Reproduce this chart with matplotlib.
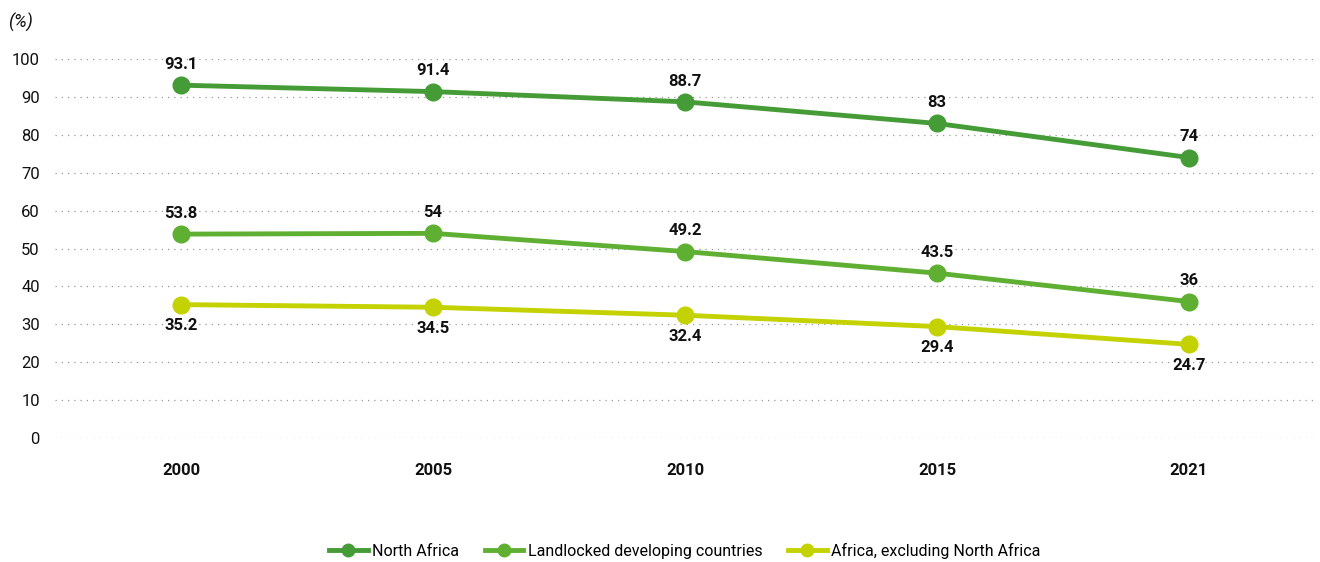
import matplotlib
matplotlib.use("Agg")
import matplotlib.pyplot as plt
from matplotlib import font_manager

years = ["2000", "2005", "2010", "2015", "2021"]
north_africa = [93.1, 91.4, 88.7, 83, 74]
landlocked = [53.8, 54, 49.2, 43.5, 36]
africa_excl = [35.2, 34.5, 32.4, 29.4, 24.7]

series_names = ["North Africa", "Landlocked developing countries", "Africa, excluding North Africa"]
colors = ["#459c37", "#5fb032", "#c3d200"]
label_side = [1, 1, -1]  # 1 = above the point, -1 = below

names = {f.name for f in font_manager.fontManager.ttflist}
fam = ["Liberation Sans Narrow", "DejaVu Sans"] if "Liberation Sans Narrow" in names else ["Roboto", "DejaVu Sans"]
plt.rcParams['font.family'] = fam

fig = plt.figure(figsize=(13.2, 5.62), dpi=100)
ax = fig.add_axes([0.0417, 0.2206, 0.9545, 0.6744])

x = list(range(len(years)))
for vals, name, col, side in zip([north_africa, landlocked, africa_excl], series_names, colors, label_side):
    ax.plot(x, vals, color=col, lw=3.5, marker="o", ms=12, label=name, clip_on=False, zorder=3)
    for xi, v in zip(x, vals):
        ax.annotate(f"{v:g}", (xi, v), xytext=(0, 15 * side), textcoords="offset points",
                    ha="center", va="center", fontsize=12, fontweight="bold", color="#111111")

ax.set_xlim(-0.5, 4.5)
ax.set_ylim(0, 100)
ax.set_yticks(range(0, 101, 10))
ax.set_xticks(x)
ax.set_xticklabels(years, fontweight="bold")
ax.tick_params(axis="y", length=0, labelsize=12, pad=11, colors="#111111")
ax.tick_params(axis="x", length=0, labelsize=12, pad=18, colors="#111111")
ax.grid(axis="y", color="#999999", linestyle=(0, (1, 4)), linewidth=0.9)
ax.set_axisbelow(True)
for s in ax.spines.values():
    s.set_visible(False)

fig.text(0.006, 0.96, "(%)", fontsize=13, style="italic", ha="left", va="center", color="#111111")

ax.legend(loc="center", bbox_to_anchor=(0.5, -0.298), ncol=3, frameon=False, fontsize=11.5,
          handlelength=2.4, columnspacing=1.6, handletextpad=0.3, markerscale=0.75)

fig.savefig("out.png", dpi=100)
